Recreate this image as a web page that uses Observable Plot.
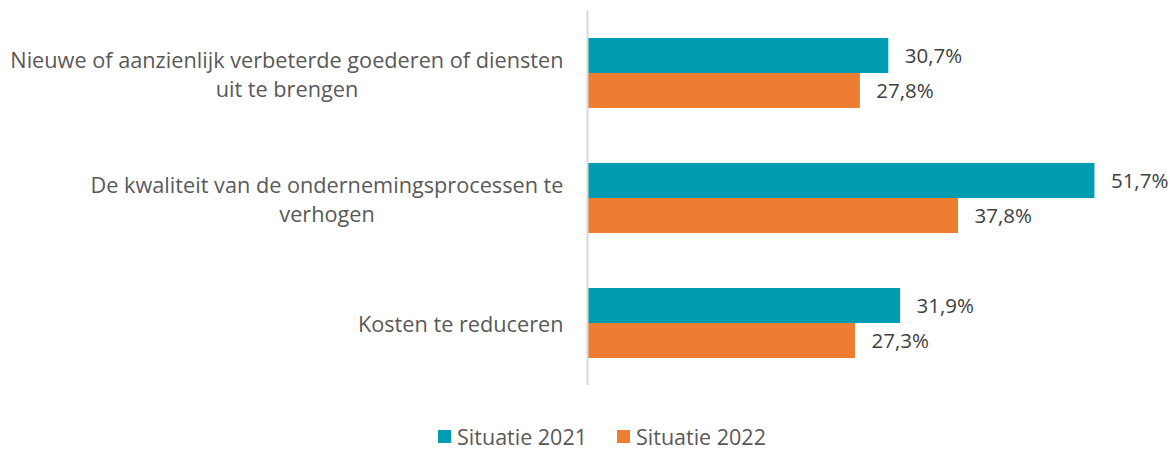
<!DOCTYPE html>
<html>
<head>
<meta charset="utf-8">
<script src="https://cdn.jsdelivr.net/npm/d3@7"></script>
<script src="https://cdn.jsdelivr.net/npm/@observablehq/plot@0.6"></script>
<style>
  html, body { margin: 0; padding: 0; background: #ffffff; }
  body { width: 1170px; height: 452px; overflow: hidden; font-family: "Open Sans", sans-serif; }
  #legend { display: flex; justify-content: center; align-items: center; height: 57px; padding-left: 34px; box-sizing: border-box; padding-top: 26px; }
  .item { display: flex; align-items: center; margin-right: 30px; font-size: 21.5px; color: #595959; }
  .item:last-child { margin-right: 0; }
  .sw { width: 13px; height: 13px; margin-right: 6px; display: inline-block; }
</style>
</head>
<body>
<div id="chart"></div>
<div id="legend"></div>
<script>
// ---- data ----
const categories = [
  "Nieuwe of aanzienlijk verbeterde goederen of diensten uit te brengen",
  "De kwaliteit van de ondernemingsprocessen te verhogen",
  "Kosten te reduceren"
];
const tickLabels = [
  "Nieuwe of aanzienlijk verbeterde goederen of diensten\nuit te brengen",
  "De kwaliteit van de ondernemingsprocessen te\nverhogen",
  "Kosten te reduceren"
];
const series = ["Situatie 2021", "Situatie 2022"];
const values2021 = [30.7, 51.7, 31.9];
const values2022 = [27.8, 37.8, 27.3];
const colors = ["#019cb2", "#ed7d31"];

// ---- build table ----
const data = categories.flatMap((c, i) => [
  {category: c, series: series[0], value: values2021[i]},
  {category: c, series: series[1], value: values2022[i]}
]);

const W = 1170, H = 395, mL = 587, mR = 0, xMax = 59.4;
const k = (W - mL - mR) / xMax;
const labelSize = 21.7;

// measure label widths so wrapped lines are centred in a right-aligned box
const ctx = document.createElement("canvas").getContext("2d");
ctx.font = labelSize + "px 'Open Sans'";
const labelRight = 563;
const labelData = categories.map((c, i) => {
  const w = d3.max(tickLabels[i].split("\n"), s => ctx.measureText(s).width);
  const cx = labelRight - w / 2;
  return {category: c, label: tickLabels[i], lx: (cx - mL) / k};
});

const fmt = v => d3.format(".1f")(v).replace(".", ",") + "%";

const chart = Plot.plot({
  width: W,
  height: H,
  marginLeft: mL,
  marginRight: mR,
  marginTop: 10,
  marginBottom: 10,
  style: {fontFamily: "Open Sans", fontSize: "20px", background: "#ffffff"},
  x: {domain: [0, xMax], axis: null},
  y: {domain: series, paddingInner: 0, paddingOuter: 0.76, axis: null},
  fy: {domain: categories, paddingInner: 0, paddingOuter: 0, axis: null},
  color: {domain: series, range: colors},
  marks: [
    Plot.barX(data, {x: "value", y: "series", fy: "category", fill: "series"}),
    Plot.ruleX([0], {stroke: "#d9d9d9", strokeWidth: 2}),
    Plot.text(data, {x: "value", y: "series", fy: "category", text: d => fmt(d.value),
      dx: 16, textAnchor: "start", fill: "#404040", fontSize: 20.5}),
    Plot.text(labelData, {x: "lx", fy: "category", text: "label", textAnchor: "middle",
      lineHeight: 1.34, fill: "#595959", fontSize: labelSize})
  ]
});
document.getElementById("chart").appendChild(chart);

// legend
const legend = document.getElementById("legend");
series.forEach((s, i) => {
  const it = document.createElement("div");
  it.className = "item";
  const sw = document.createElement("span");
  sw.className = "sw";
  sw.style.background = colors[i];
  it.appendChild(sw);
  it.appendChild(document.createTextNode(s));
  legend.appendChild(it);
});
</script>
</body>
</html>
